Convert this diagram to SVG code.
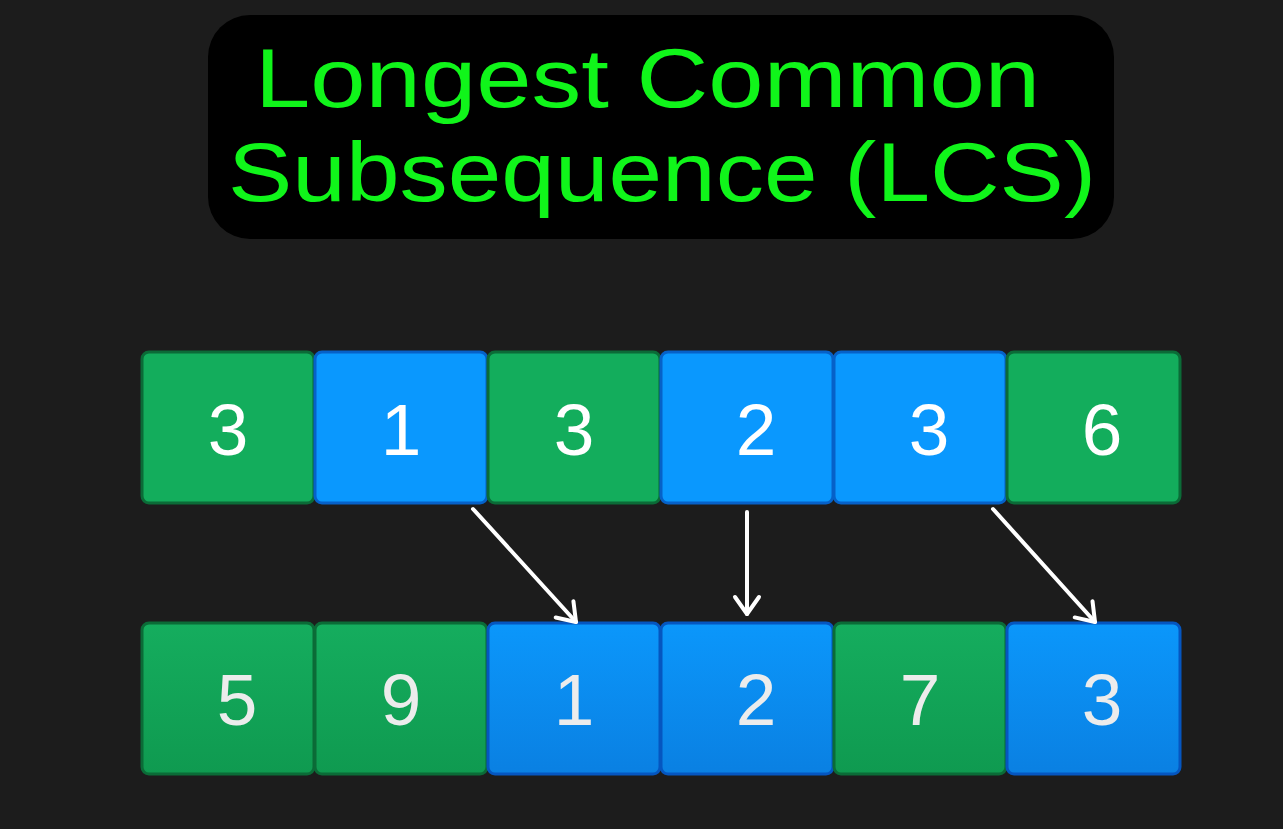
<svg xmlns="http://www.w3.org/2000/svg" width="1283" height="829" viewBox="0 0 1283 829">
<defs>
<style>
.title{font-family:"Liberation Sans",Arial,sans-serif;font-size:83px;fill:#10f51a;}
.g{fill:#13ad5c;stroke:#0b6b37;stroke-width:3;}
.b{fill:#0a98fe;stroke:#0661c8;stroke-width:3;}
.g2{fill:url(#gg);stroke:#0b6b37;stroke-width:3;}
.b2{fill:url(#bg);stroke:#0556c0;stroke-width:3;}
.num{font-family:"Liberation Sans",Arial,sans-serif;font-size:73px;fill:#ffffff;text-anchor:middle;}
.num2{font-family:"Liberation Sans",Arial,sans-serif;font-size:73px;fill:#ececec;text-anchor:middle;}
.arr{stroke:#ffffff;stroke-width:4;fill:none;stroke-linecap:round;marker-end:url(#ah);}
</style>
<linearGradient id="gg" x1="0" y1="0" x2="0" y2="1"><stop offset="0" stop-color="#15ad5e"/><stop offset="1" stop-color="#0f9a50"/></linearGradient>
<linearGradient id="bg" x1="0" y1="0" x2="0" y2="1"><stop offset="0" stop-color="#0b97fb"/><stop offset="1" stop-color="#0a80e2"/></linearGradient>
<marker id="ah" viewBox="0 0 30 30" refX="27" refY="15" markerWidth="30" markerHeight="30" markerUnits="userSpaceOnUse" orient="auto">
<polyline points="10,3 27,15 10,27" fill="none" stroke="#ffffff" stroke-width="4" stroke-linecap="round" stroke-linejoin="round"/>
</marker>
</defs>
<rect width="1283" height="829" fill="#1c1c1c"/>
<g id="title">
<rect x="208" y="15" width="906" height="224" rx="42" fill="#000000"/>
<text class="title" x="255" y="107" textLength="785" lengthAdjust="spacingAndGlyphs">Longest Common</text>
<text class="title" x="228" y="201" textLength="868" lengthAdjust="spacingAndGlyphs">Subsequence (LCS)</text>
</g>
<g id="top-row">
<g id="t0"><rect class="g" x="142" y="352" width="172" height="151" rx="7"/><text class="num" x="228" y="455">3</text></g>
<g id="t1"><rect class="b" x="315" y="352" width="172" height="151" rx="7"/><text class="num" x="401" y="455">1</text></g>
<g id="t2"><rect class="g" x="488" y="352" width="172" height="151" rx="7"/><text class="num" x="574" y="455">3</text></g>
<g id="t3"><rect class="b" x="661" y="352" width="172" height="151" rx="7"/><text class="num" x="756" y="455">2</text></g>
<g id="t4"><rect class="b" x="834" y="352" width="172" height="151" rx="7"/><text class="num" x="929" y="455">3</text></g>
<g id="t5"><rect class="g" x="1007" y="352" width="173" height="151" rx="7"/><text class="num" x="1102" y="455">6</text></g>
</g>
<g id="bottom-row">
<g id="b0"><rect class="g2" x="142" y="623" width="172" height="151" rx="7"/><text class="num2" x="237" y="725">5</text></g>
<g id="b1"><rect class="g2" x="315" y="623" width="172" height="151" rx="7"/><text class="num2" x="401" y="725">9</text></g>
<g id="b2"><rect class="b2" x="488" y="623" width="172" height="151" rx="7"/><text class="num2" x="574" y="725">1</text></g>
<g id="b3"><rect class="b2" x="661" y="623" width="172" height="151" rx="7"/><text class="num2" x="756" y="725">2</text></g>
<g id="b4"><rect class="g2" x="834" y="623" width="172" height="151" rx="7"/><text class="num2" x="920" y="725">7</text></g>
<g id="b5"><rect class="b2" x="1007" y="623" width="173" height="151" rx="7"/><text class="num2" x="1102" y="725">3</text></g>
</g>
<g id="connectors">
<line class="arr" x1="473" y1="509" x2="576" y2="622"/>
<line class="arr" x1="747" y1="512" x2="747" y2="614"/>
<line class="arr" x1="993" y1="509" x2="1095" y2="622"/>
</g>
</svg>
